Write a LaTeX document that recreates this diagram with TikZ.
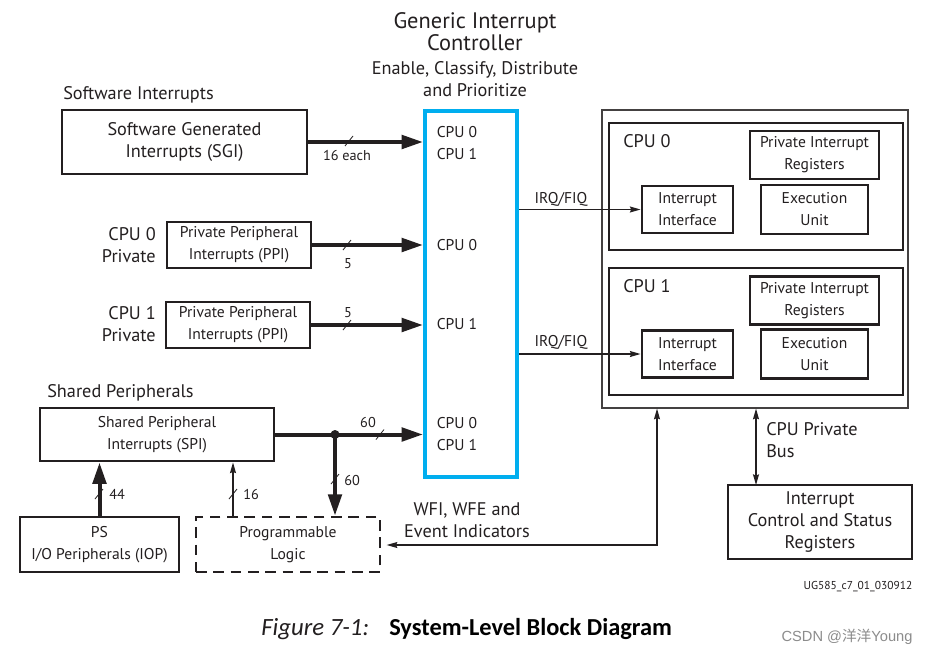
\documentclass[tikz,border=0pt]{standalone}
\usepackage{fontspec}
\setmainfont{PT Sans}
\newfontfamily\capfont{Carlito}
\newfontfamily\cjkfont{Noto Sans CJK SC}
\newfontfamily\wmfont{Liberation Sans}
\usetikzlibrary{arrows.meta,calc}
\definecolor{ink}{HTML}{231F20}
\definecolor{gicblue}{HTML}{00AEEF}
\tikzset{
  sz/.style 2 args={minimum width=#1*0.75pt, minimum height=#2*0.75pt, inner sep=0pt},
  thickbox/.style={draw=ink, line width=2.2pt, align=center, text=ink},
  midbox/.style={draw=ink, line width=1.6pt, align=center, text=ink},
  fbig/.style={font=\fontsize{13.7}{16.5}\selectfont},
  fmid/.style={font=\fontsize{11.7}{16.5}\selectfont},
  fsmall/.style={font=\fontsize{10.7}{12}\selectfont},
  ftitle/.style={font=\fontsize{16.8}{16.5}\selectfont},
  lbl/.style={text=ink, inner sep=0pt, align=center},
  bigarrow/.style={draw=ink, line width=3pt, -{Triangle[length=16pt, width=10pt]}},
  bigline/.style={draw=ink, line width=3pt},
  thinarrow/.style={draw=ink, line width=0.9pt, -{Stealth[length=8pt, width=4.5pt, inset=1pt]}},
  thinboth/.style={draw=ink, line width=0.9pt, {Stealth[length=8pt, width=4.5pt, inset=1pt]}-{Stealth[length=8pt, width=4.5pt, inset=1pt]}},
  slashln/.style={draw=ink, line width=0.6pt},
}
\newcommand\busslash[1]{\draw[slashln] (#1) ++(-4,5) -- ++(8,-10);}
\begin{document}
\begin{tikzpicture}[x=0.75pt, y=-0.75pt]
\useasboundingbox (0,0) rectangle (934,657);
\fill[white] (0,0) rectangle (934,657);

% title
\node[lbl, ftitle] (title) at (475,32) {Generic Interrupt\\Controller};
\node[lbl, fbig] (subtitle) at (475,79) {Enable, Classify, Distribute\\and Prioritize};

% GIC
\node[draw=gicblue, line width=3pt, sz={92}{366}] (GIC) at (471,294) {};
\node[lbl, fmid] (g1) at (457,143) {CPU 0\\CPU 1};
\node[lbl, fmid] (g2) at (457,245) {CPU 0};
\node[lbl, fmid] (g3) at (457,324) {CPU 1};
\node[lbl, fmid] (g4) at (457,434) {CPU 0\\CPU 1};

% left side
\node[lbl, fbig, anchor=west] (swlbl) at (63,95) {Software Interrupts};
\node[thickbox, fbig, sz={245}{64}] (SGI) at (184.5,142) {Software Generated\\Interrupts (SGI)};
\node[lbl, fbig, align=right, anchor=east] (c0p) at (156,245) {CPU 0\\Private};
\node[midbox, fmid, sz={144}{46}] (PPI0) at (239,245) {Private Peripheral\\Interrupts (PPI)};
\node[lbl, fbig, align=right, anchor=east] (c1p) at (156,324) {CPU 1\\Private};
\node[midbox, fmid, sz={144}{46}] (PPI1) at (238,325) {Private Peripheral\\Interrupts (PPI)};
\node[lbl, fbig, anchor=west] (shlbl) at (47,393) {Shared Peripherals};
\node[thickbox, fmid, sz={234}{53}] (SPI) at (157,434.5) {Shared Peripheral\\Interrupts (SPI)};
\node[thickbox, fmid, sz={159}{55}] (IOP) at (99.5,544.5) {PS\\I/O Peripherals (IOP)};
\node[draw=ink, line width=2pt, dash pattern=on 8pt off 5pt, align=center, text=ink, fmid, sz={184}{55}] (PL) at (288,544.5) {Programmable\\Logic};

% arrows into GIC
\draw[bigarrow] (SGI.east) -- (SGI.east -| GIC.west);
\busslash{349,141}
\node[lbl, fsmall] (l16e) at (347,156) {16 each};
\draw[bigarrow] (PPI0.east) -- (PPI0.east -| GIC.west);
\busslash{347,245}
\node[lbl, fsmall] (l5a) at (348,264) {5};
\draw[bigarrow] (PPI1.east) -- (PPI1.east -| GIC.west);
\busslash{347,325}
\node[lbl, fsmall] (l5b) at (348,313) {5};
\coordinate (j) at (335,434.5);
\draw[bigline] (SPI.east) -- (j);
\draw[bigarrow] (j) -- (j -| GIC.west);
\fill[ink] (j) circle (4.5);
\busslash{380,434.5}
\node[lbl, fsmall] (l60a) at (368,422) {60};
\draw[bigarrow] (j) -- (j |- PL.north);
\busslash{335,479}
\node[lbl, fsmall, anchor=west] (l60b) at (344,480) {60};
\draw[bigarrow] (IOP.north) -- (IOP.north |- SPI.south);
\busslash{99,494}
\node[lbl, fsmall, anchor=west] (l44) at (109,494) {44};
\coordinate (plsrc) at (233,517);
\draw[thinarrow] (plsrc) -- (plsrc |- SPI.south);
\busslash{233,494}
\node[lbl, fsmall, anchor=west] (l16) at (243,494) {16};

% CPU block
\node[draw=ink!85, line width=0.9pt, sz={306}{298}] (OUT) at (755,259) {};
\node[draw=ink, line width=2.2pt, sz={294}{127}] (CPU0) at (756,186.5) {};
\node[lbl, fbig, anchor=west] (c0t) at (623,141) {CPU 0};
\node[thickbox, fmid, sz={129}{48}] (PIR0) at (814.5,155) {Private Interrupt\\Registers};
\node[thickbox, fmid, sz={91}{47}] (II0) at (687.5,209.5) {Interrupt\\Interface};
\node[thickbox, fmid, sz={107}{49}] (EU0) at (814.5,209.5) {Execution\\Unit};
\node[draw=ink, line width=2.2pt, sz={294}{127}] (CPU1) at (756,331.5) {};
\node[lbl, fbig, anchor=west] (c1t) at (623,286) {CPU 1};
\node[thickbox, fmid, sz={129}{48}] (PIR1) at (814.5,300.5) {Private Interrupt\\Registers};
\node[thickbox, fmid, sz={91}{47}] (II1) at (687.5,354) {Interrupt\\Interface};
\node[thickbox, fmid, sz={107}{49}] (EU1) at (814.5,354) {Execution\\Unit};

\draw[thinarrow] (GIC.east |- II0.west) -- (II0.west);
\node[lbl, fmid] (irq0) at (561,199) {IRQ/FIQ};
\draw[thinarrow] (GIC.east |- II1.west) -- (II1.west);
\node[lbl, fmid] (irq1) at (561,342) {IRQ/FIQ};

% bottom right
\node[thickbox, fbig, sz={184}{74}] (ICSR) at (820,522) {Interrupt\\Control and Status\\Registers};
\coordinate (bus) at (756,485);
\draw[thinboth] (bus |- OUT.south) -- (bus);
\node[lbl, fbig, align=left, anchor=west] (buslbl) at (766,440) {CPU Private\\Bus};

\coordinate (wfi) at (657,545);
\draw[thinboth, shorten >=4pt] (wfi |- OUT.south) -- (wfi) -- (PL.east |- wfi);
\node[lbl, fbig] (wfilbl) at (467,520) {WFI, WFE and\\Event Indicators};

\node[lbl, font=\fontsize{8.6}{9}\selectfont] (ug) at (858,587) {UG585\_c7\_01\_030912};

% caption
\node[lbl, anchor=west, font=\capfont\fontsize{18.6}{20}\selectfont\itshape] (cap1) at (261,629) {Figure 7-1:};
\node[lbl, anchor=west, font=\capfont\fontsize{18.3}{20}\selectfont\bfseries, text=black] (cap2) at (389,629) {System-Level Block Diagram};
\node[lbl, text=black!45, font=\wmfont\fontsize{11}{14}\selectfont] (wm) at (847,637) {CSDN @{\cjkfont 洋洋}Young};
\end{tikzpicture}
\end{document}
